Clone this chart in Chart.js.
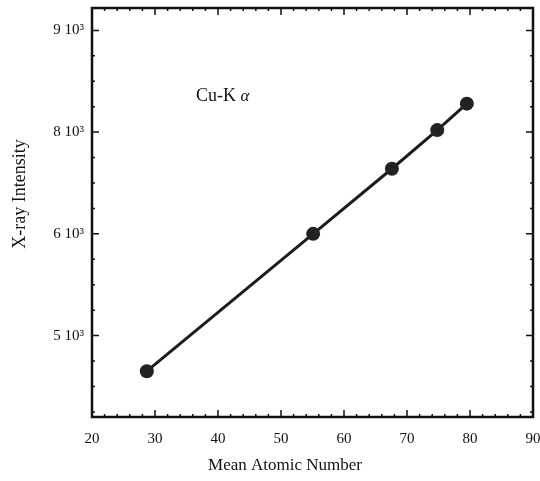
<!DOCTYPE html>
<html>
<head>
<meta charset="utf-8">
<script src="https://cdn.jsdelivr.net/npm/chart.js@4.4.0/dist/chart.umd.min.js"></script>
<style>
  html, body { margin: 0; padding: 0; background: #fff; }
  #wrap { width: 540px; height: 481px; }
</style>
</head>
<body>
<div id="wrap"><canvas id="xrayChart" width="540" height="481"></canvas></div>
<script>
// mean atomic number of each sample
const atomicNumbers = [28.7, 55.1, 67.6, 74.8, 79.5];
// intensity, in the axis' own display units (ticks are evenly spaced in the original)
const intensities = [4650, 6000, 6640, 7020, 7280];
const yTickValues = [5000, 6000, 7000, 8000];
const yTickLabels = ["5 10\u00B3", "6 10\u00B3", "8 10\u00B3", "9 10\u00B3"];
const xTickValues = [20, 30, 40, 50, 60, 70, 80, 90];

const serif = "'Liberation Serif', 'DejaVu Serif', serif";

// frame, inward ticks on all four sides, axis titles and the Cu-K alpha label
const framePlugin = {
  id: "frame",
  afterDraw(chart) {
    const { ctx, chartArea: a, scales } = chart;
    const xs = scales.x, ys = scales.y;
    ctx.save();
    ctx.strokeStyle = "#111";
    ctx.lineWidth = 1.5;
    ctx.beginPath();
    for (let v = 20; v <= 90; v += 2) {
      const px = xs.getPixelForValue(v);
      const len = v % 10 === 0 ? 7 : 3;
      ctx.moveTo(px, a.bottom); ctx.lineTo(px, a.bottom - len);
      ctx.moveTo(px, a.top); ctx.lineTo(px, a.top + len);
    }
    for (let v = 4250; v <= 8200; v += 250) {
      const py = ys.getPixelForValue(v);
      const len = v % 1000 === 0 ? 7 : 3;
      ctx.moveTo(a.left, py); ctx.lineTo(a.left + len, py);
      ctx.moveTo(a.right, py); ctx.lineTo(a.right - len, py);
    }
    ctx.stroke();
    ctx.lineWidth = 2.5;
    ctx.strokeRect(a.left, a.top, a.right - a.left, a.bottom - a.top);

    ctx.fillStyle = "#111";
    ctx.textBaseline = "middle";
    ctx.textAlign = "left";
    const lx = xs.getPixelForValue(36.5);
    const ly = ys.getPixelForValue(7356);
    ctx.font = "18px " + serif;
    ctx.fillText("Cu-K ", lx, ly);
    const w = ctx.measureText("Cu-K ").width;
    ctx.font = "italic 17px " + serif;
    ctx.fillText("\u03B1", lx + w, ly + 1);

    // axis titles
    ctx.textAlign = "center";
    ctx.font = "17px " + serif;
    ctx.fillText("Mean Atomic Number", 285, 466);
    ctx.translate(20, 194);
    ctx.rotate(-Math.PI / 2);
    ctx.font = "18px " + serif;
    ctx.fillText("X-ray Intensity", 0, 0);
    ctx.restore();
  }
};

new Chart(document.getElementById("xrayChart"), {
  type: "scatter",
  data: {
    datasets: [{
      data: atomicNumbers.map((x, i) => ({ x, y: intensities[i] })),
      showLine: true,
      borderColor: "#1c1c1c",
      borderWidth: 3,
      backgroundColor: "#222",
      pointRadius: 7,
      pointBorderWidth: 0,
      tension: 0
    }]
  },
  options: {
    responsive: false,
    animation: false,
    layout: { padding: { left: 0, right: 7, top: 8, bottom: 0 } },
    plugins: { legend: { display: false }, tooltip: { enabled: false } },
    scales: {
      x: {
        type: "linear",
        min: 20, max: 90,
        afterBuildTicks: s => { s.ticks = xTickValues.map(v => ({ value: v })); },
        afterFit: s => { s.height = 64; s.paddingLeft = 0; s.paddingRight = 0; },
        grid: { display: false },
        border: { display: false },
        ticks: { color: "#111", padding: 5, font: { family: serif, size: 15 } }
      },
      y: {
        type: "linear",
        min: 4200, max: 8220,
        afterBuildTicks: s => { s.ticks = yTickValues.map(v => ({ value: v })); },
        afterFit: s => { s.width = 92; s.paddingTop = 0; s.paddingBottom = 0; },
        grid: { display: false },
        border: { display: false },
        ticks: {
          color: "#111", padding: 0, font: { family: serif, size: 15 },
          callback: v => yTickLabels[yTickValues.indexOf(v)]
        }
      }
    }
  },
  plugins: [framePlugin]
});
</script>
</body>
</html>
